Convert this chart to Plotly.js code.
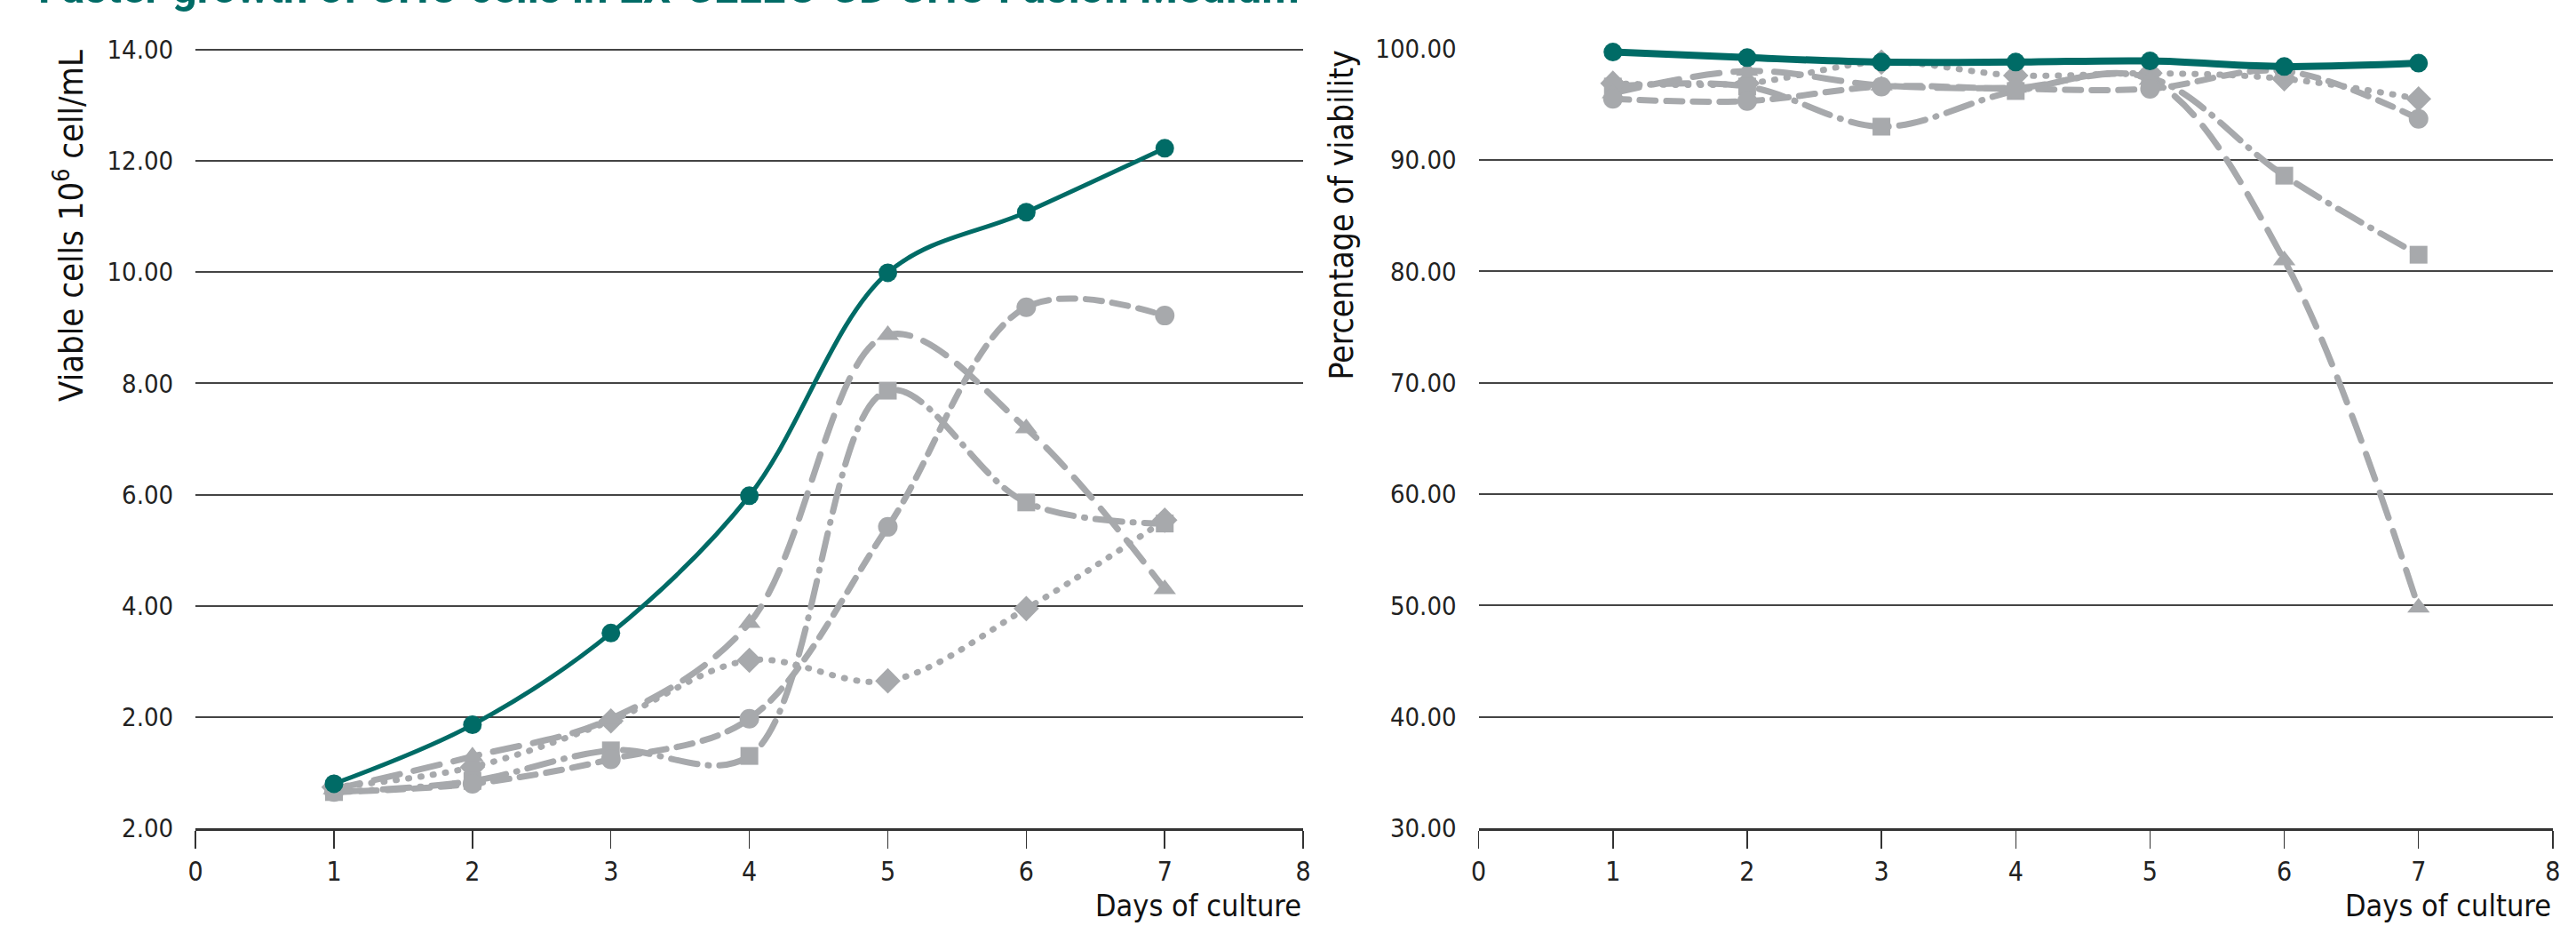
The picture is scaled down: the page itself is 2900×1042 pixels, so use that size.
<!DOCTYPE html>
<html>
<head>
<meta charset="utf-8">
<script src="https://cdn.plot.ly/plotly-3.0.1.min.js"></script>
<style>
html,body{margin:0;padding:0;background:#fff;}
#chart{width:2900px;height:1042px;}
</style>
</head>
<body>
<div id="chart"></div>
<script>
// ---- data ----
var days = [1, 2, 3, 4, 5, 6, 7];
var xTicks = [0, 1, 2, 3, 4, 5, 6, 7, 8];

var viableTeal     = [0.80, 1.86, 3.51, 5.98, 9.99, 11.08, 12.23];
var viableCircle   = [0.65, 0.80, 1.24, 1.97, 5.42, 9.37, 9.22];
var viableTriangle = [0.70, 1.29, 1.97, 3.69, 8.87, 7.19, 4.30];
var viableSquare   = [0.65, 0.85, 1.40, 1.30, 7.87, 5.86, 5.48];
var viableDiamond  = [0.74, 1.10, 1.93, 3.02, 2.65, 3.95, 5.54];

var viabTeal     = [99.7, 99.2, 98.8, 98.8, 98.9, 98.4, 98.7];
var viabCircle   = [95.5, 95.3, 96.6, 96.4, 96.4, 98.0, 93.7];
var viabTriangle = [96.0, 98.0, 96.7, 96.5, 97.2, 81.0, 49.8];
var viabSquare   = [96.6, 96.6, 93.0, 96.2, 97.4, 88.6, 81.5];
var viabDiamond  = [96.9, 96.9, 98.8, 97.6, 97.8, 97.3, 95.5];

var leftTickVals  = [0, 2, 4, 6, 8, 10, 12, 14];
var leftTickText  = ["2.00", "2.00", "4.00", "6.00", "8.00", "10.00", "12.00", "14.00"];
var rightTickVals = [30, 40, 50, 60, 70, 80, 90, 100];
var rightTickText = ["30.00", "40.00", "50.00", "60.00", "70.00", "80.00", "90.00", "100.00"];

var titleText = "Faster growth of CHO cells in EX-CELL® CD CHO Fusion Medium";
var yTitleLeft = "Viable cells 10<sup>6</sup> cell/mL";
var yTitleRight = "Percentage of viability";
var xTitle = "Days of culture";

// ---- styles ----
var TEAL = "#006b66", GREY = "#a7a9ac";
var FONT = "DejaVu Sans Condensed, Liberation Sans Narrow, sans-serif";

function greyTrace(y, sym, dash, xa, ya, size) {
  return {
    x: days, y: y, xaxis: xa, yaxis: ya, type: "scatter", mode: "lines+markers",
    line: {color: GREY, width: 7, dash: dash, shape: "spline", smoothing: 1},
    marker: {symbol: sym, size: size || 22, color: GREY},
    hoverinfo: "skip", cliponaxis: false
  };
}
function tealTrace(y, xa, ya, width) {
  return {
    x: days, y: y, xaxis: xa, yaxis: ya, type: "scatter", mode: "lines+markers",
    line: {color: TEAL, width: width, shape: "spline", smoothing: 1},
    marker: {symbol: "circle", size: 21, color: TEAL},
    hoverinfo: "skip", cliponaxis: false
  };
}

var DASH_CIRCLE = "18px,12px";
var DASH_TRI = "30px,16px";
var DASH_SQ = "30px,12px,1px,12px";
var DASH_DIA = "1px,13px";

var data = [
  greyTrace(viableDiamond, "diamond", DASH_DIA, "x", "y"),
  greyTrace(viableSquare, "square", DASH_SQ, "x", "y", 20),
  greyTrace(viableTriangle, "triangle-up", DASH_TRI, "x", "y"),
  greyTrace(viableCircle, "circle", DASH_CIRCLE, "x", "y"),
  tealTrace(viableTeal, "x", "y", 5),
  greyTrace(viabDiamond, "diamond", DASH_DIA, "x2", "y2"),
  greyTrace(viabSquare, "square", DASH_SQ, "x2", "y2", 20),
  greyTrace(viabTriangle, "triangle-up", DASH_TRI, "x2", "y2"),
  greyTrace(viabCircle, "circle", DASH_CIRCLE, "x2", "y2"),
  tealTrace(viabTeal, "x2", "y2", 8)
];

function xAxis(domain, anchor) {
  return {
    domain: domain, anchor: anchor, range: [0, 8], tickvals: xTicks,
    ticks: "outside", ticklen: 20, tickwidth: 1.5, tickcolor: "#333",
    showline: true, linecolor: "#333", linewidth: 3, showgrid: false, zeroline: false,
    tickfont: {family: FONT, size: 30, color: "#222"}, fixedrange: true
  };
}
function yAxis(domain, anchor, range, vals, text) {
  return {
    domain: domain, anchor: anchor, range: range, tickvals: vals, ticktext: text,
    ticks: "", showline: false, showgrid: true, gridcolor: "#444", gridwidth: 2,
    zeroline: false, ticklabelstandoff: 24,
    tickfont: {family: FONT, size: 29, color: "#222"}, fixedrange: true
  };
}

var yDom = [0.1056, 0.948];
var layout = {
  width: 2900, height: 1042,
  margin: {l: 0, r: 0, t: 0, b: 0},
  paper_bgcolor: "#fff", plot_bgcolor: "#fff",
  showlegend: false,
  xaxis: xAxis([0.0759, 0.5059], "y"),
  yaxis: yAxis(yDom, "x", [0, 14.03], leftTickVals, leftTickText),
  xaxis2: xAxis([0.574, 0.991], "y2"),
  yaxis2: yAxis(yDom, "x2", [30, 100.05], rightTickVals, rightTickText),
  annotations: [
    {text: titleText, xref: "paper", yref: "paper", x: 0.014, y: 0.984,
     xanchor: "left", yanchor: "bottom", showarrow: false,
     font: {family: "Roboto, sans-serif", size: 49, color: TEAL, weight: 700}},
    {text: yTitleLeft, xref: "paper", yref: "paper", x: 0.0268, y: 0.948,
     xanchor: "center", yanchor: "top", textangle: -90, showarrow: false,
     font: {family: FONT, size: 38, color: "#111"}},
    {text: yTitleRight, xref: "paper", yref: "paper", x: 0.521, y: 0.948,
     xanchor: "center", yanchor: "top", textangle: -90, showarrow: false,
     font: {family: FONT, size: 37, color: "#111"}},
    {text: xTitle, xref: "paper", yref: "paper", x: 0.5059, y: 0.001,
     xanchor: "right", yanchor: "bottom", showarrow: false,
     font: {family: FONT, size: 34, color: "#111"}},
    {text: xTitle, xref: "paper", yref: "paper", x: 0.991, y: 0.001,
     xanchor: "right", yanchor: "bottom", showarrow: false,
     font: {family: FONT, size: 34, color: "#111"}}
  ]
};

Plotly.newPlot("chart", data, layout, {staticPlot: true, displayModeBar: false}).then(function () {
  document.querySelectorAll(".scatterlayer path.js-line").forEach(function (p) {
    p.style.strokeLinecap = "round";
  });
});
</script>
</body>
</html>
